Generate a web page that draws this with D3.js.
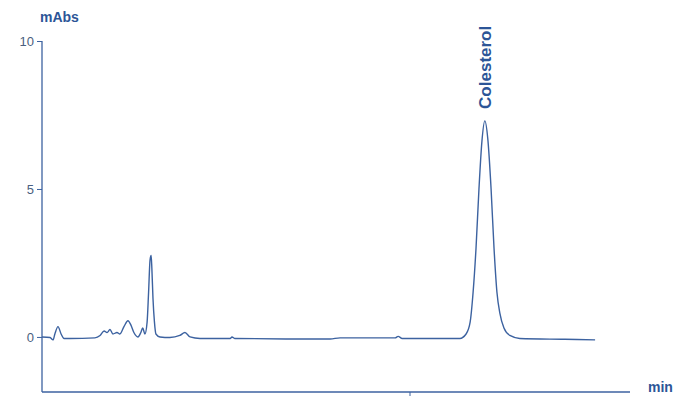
<!DOCTYPE html>
<html>
<head>
<meta charset="utf-8">
<script src="https://cdn.jsdelivr.net/npm/d3@7"></script>
<style>
  body { margin: 0; background: #fff; }
  svg { display: block; }
  text { font-family: "Liberation Sans", Arial, sans-serif; }
</style>
</head>
<body>
<svg id="chart" width="678" height="397"></svg>
<script>
// Retention time (min) and absorbance (mAbs) of the detector trace
const timeMin = [0, 0.22, 0.30, 0.35, 0.435, 0.52, 0.60, 0.76, 1.44, 1.58, 1.69, 1.77, 1.85, 1.93, 2.04, 2.12,
  2.23, 2.34, 2.42, 2.50, 2.61, 2.69, 2.74, 2.80, 2.86, 2.90, 2.94, 2.97, 2.99, 3.02, 3.06, 3.10, 3.21,
  3.48, 3.75, 3.89, 4.03, 4.30, 5.12, 5.17, 5.25, 7.02, 7.84, 8.11, 9.61, 9.69, 9.80, 11.37, 11.54,
  11.65, 11.73, 11.81, 11.89, 11.97, 12.05, 12.13, 12.22, 12.30, 12.38, 12.46, 12.57, 12.73, 13.0,
  14.23, 15.05];
const absorbance = [0, -0.02, -0.1, 0.1, 0.35, 0.1, -0.05, -0.05, -0.03, 0.05, 0.2, 0.15, 0.25, 0.1, 0.15, 0.1,
  0.35, 0.55, 0.4, 0.15, 0.0, 0.15, 0.3, 0.1, 0.5, 1.5, 2.6, 2.75, 2.3, 1.3, 0.5, 0.1, 0.0,
  -0.02, 0.05, 0.15, 0.0, -0.05, -0.05, 0.0, -0.05, -0.07, -0.07, -0.03, -0.03, 0.02, -0.05, -0.05, 0.1,
  0.5, 1.5, 3.0, 5.0, 6.6, 7.3, 6.7, 5.0, 3.0, 1.5, 0.8, 0.3, 0.05, -0.05,
  -0.08, -0.1];

const yTicks = [0, 5, 10];
const xTicks = [10];
const peakNames = ["Colesterol"];
const peakTimes = [12.05];
const peakHeights = [7.3];

const ink = "#3c62a0";
const textInk = "#2c5597";

const svg = d3.select("#chart");
const x = d3.scaleLinear().domain([0, 16]).range([42, 630]);
const y = d3.scaleLinear().domain([-1.86, 10]).range([392, 41]);

// Y axis with outward ticks
const yAxis = svg.append("g")
  .attr("transform", `translate(${x(0)},0)`)
  .call(d3.axisLeft(y).tickValues(yTicks).tickSize(5).tickPadding(3).tickFormat(d3.format("d")));
yAxis.select(".domain").attr("d", `M0,${y(10)}V${y(-1.86)}`).attr("stroke", ink).attr("stroke-width", 1.3);
yAxis.selectAll(".tick line").attr("stroke", ink);
yAxis.selectAll(".tick text")
  .attr("fill", "#4a5f80").attr("font-size", 13).attr("font-family", "Liberation Sans, Arial, sans-serif");

// X axis: baseline with a single unlabeled tick
const xAxis = svg.append("g")
  .attr("transform", `translate(0,${y(-1.86)})`)
  .call(d3.axisBottom(x).tickValues(xTicks).tickSize(4).tickFormat(""));
xAxis.select(".domain").attr("d", `M${x(0)},0H${x(16)}`).attr("stroke", ink).attr("stroke-width", 1.3);
xAxis.selectAll(".tick line").attr("stroke", ink);

// Axis titles
svg.append("text").attr("x", 40).attr("y", 22)
  .attr("fill", textInk).attr("font-size", 14).attr("font-weight", "bold")
  .attr("font-family", "DejaVu Sans, sans-serif").text("mAbs");
svg.append("text").attr("x", 648).attr("y", 392)
  .attr("fill", textInk).attr("font-size", 14).attr("font-weight", "bold")
  .attr("font-family", "DejaVu Sans, sans-serif").text("min");

// Chromatogram trace
const pts = timeMin.map((t, i) => [t, absorbance[i]]);
svg.append("path")
  .datum(pts)
  .attr("fill", "none")
  .attr("stroke", ink)
  .attr("stroke-width", 1.4)
  .attr("stroke-linejoin", "round")
  .attr("d", d3.line().x(d => x(d[0])).y(d => y(d[1])).curve(d3.curveMonotoneX));

// Peak label, rotated vertically above the peak
peakNames.forEach((name, i) => {
  svg.append("text")
    .attr("transform", `translate(${x(peakTimes[i]) + 6},${y(peakHeights[i]) - 12}) rotate(-90)`)
    .attr("fill", textInk).attr("font-size", 17).attr("font-weight", "bold")
    .attr("font-family", "Liberation Sans Narrow, Liberation Sans, Arial, sans-serif")
    .text(name);
});
</script>
</body>
</html>
